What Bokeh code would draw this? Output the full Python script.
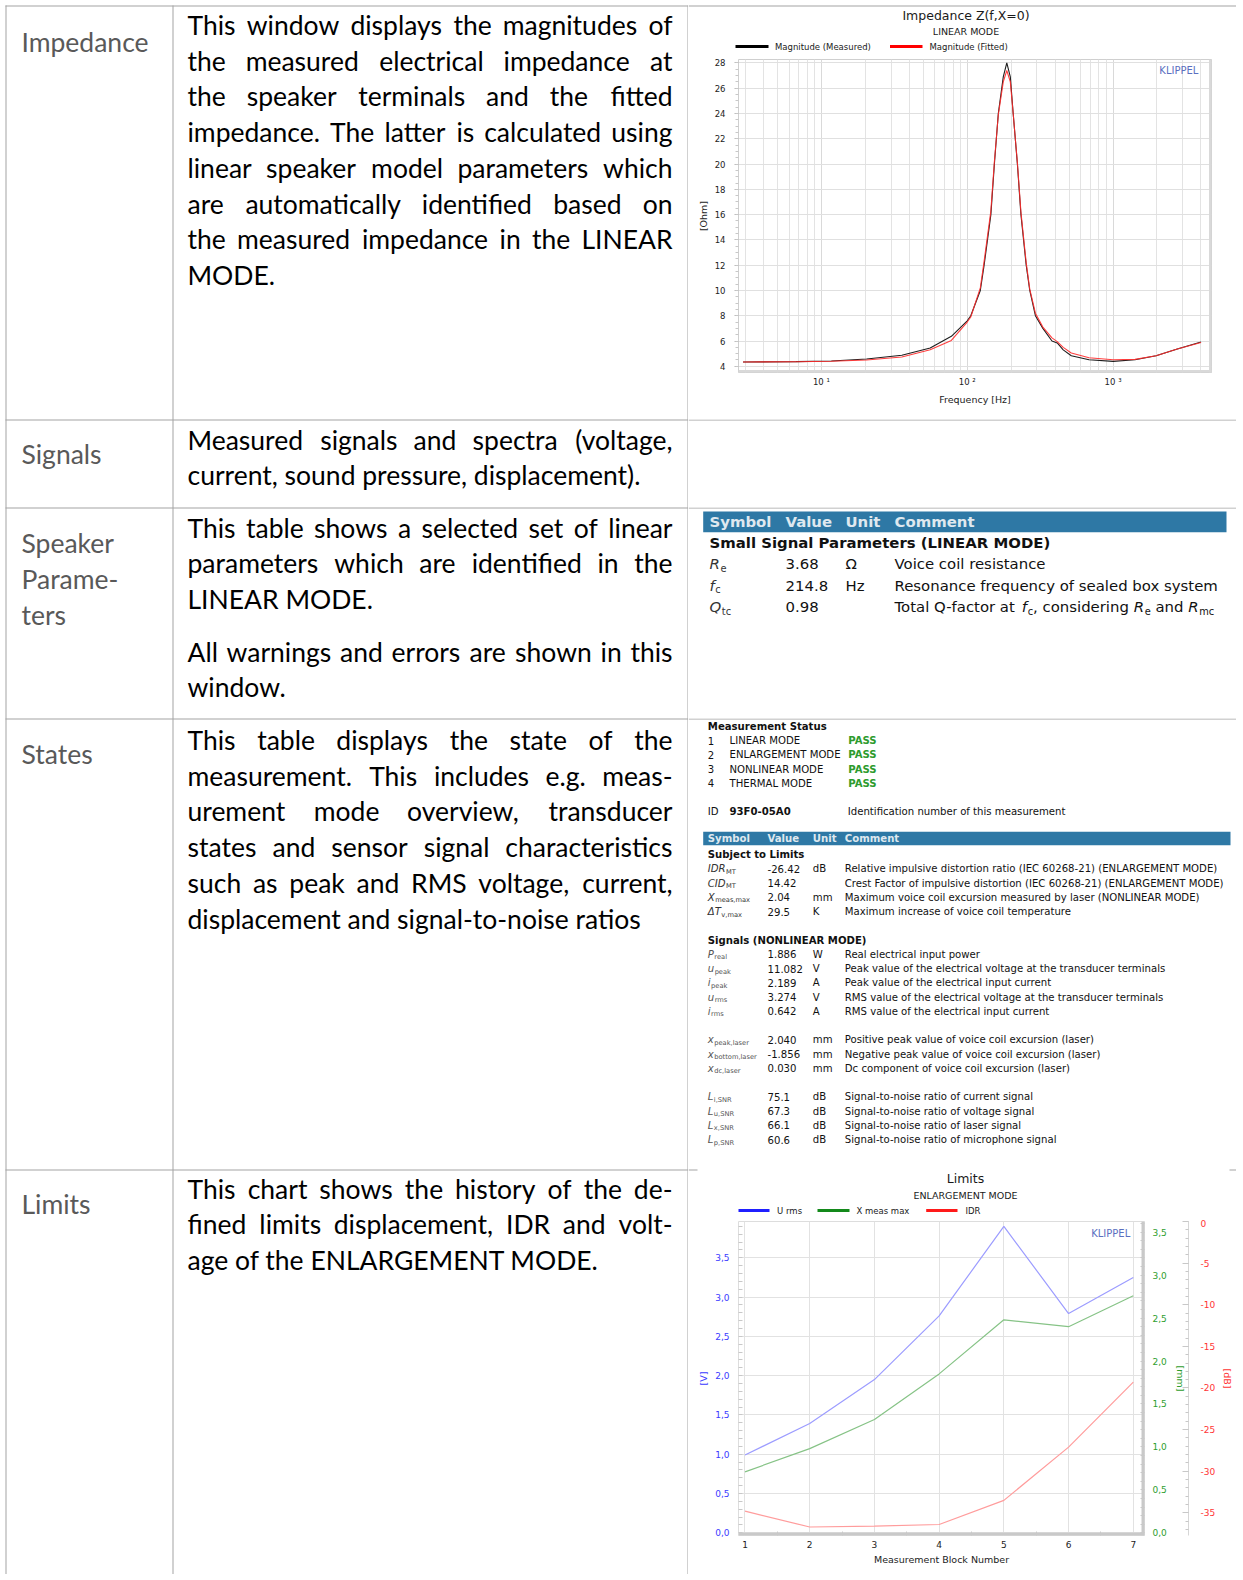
import glob
import os
import struct

from bokeh.core.properties import value
from bokeh.embed import file_html
from bokeh.layouts import column, row
from bokeh.models import (ColumnDataSource, CustomJSTickFormatter, FixedTicker,
                          LinearAxis, Range1d, Span)
from bokeh.plotting import figure
from bokeh.resources import INLINE

# ============================ DATA ============================
row_labels = [["Impedance"], ["Signals"], ["Speaker", "Parame-", "ters"], ["States"], ["Limits"]]

impedance_desc = [[
    "This window displays the magnitudes of",
    "the measured electrical impedance at",
    "the speaker terminals and the fitted",
    "impedance. The latter is calculated using",
    "linear speaker model parameters which",
    "are automatically identified based on",
    "the measured impedance in the LINEAR",
    "MODE.",
]]
signals_desc = [[
    "Measured signals and spectra (voltage,",
    "current, sound pressure, displacement).",
]]
params_desc = [
    ["This table shows a selected set of linear",
     "parameters which are identified in the",
     "LINEAR MODE."],
    ["All warnings and errors are shown in this",
     "window."],
]
states_desc = [[
    "This table displays the state of the",
    "measurement. This includes e.g. meas-",
    "urement mode overview, transducer",
    "states and sensor signal characteristics",
    "such as peak and RMS voltage, current,",
    "displacement and signal-to-noise ratios",
]]
limits_desc = [[
    "This chart shows the history of the de-",
    "fined limits displacement, IDR and volt-",
    "age of the ENLARGEMENT MODE.",
]]
row_descriptions = [impedance_desc, signals_desc, params_desc, states_desc, limits_desc]

# Impedance chart
imp_title = "Impedance Z(f,X=0)"
imp_subtitle = "LINEAR MODE"
imp_series = ["Magnitude (Measured)", "Magnitude (Fitted)"]
imp_freq = [2.9, 6.7, 11.7, 20.4, 35.6, 55.7, 77.8, 100, 105.7, 122.9, 130.5, 145.2,
            153.5, 163.3, 176.6, 186.7, 197.4, 206.5, 220.7, 233.4, 253.6, 268.3, 293.3,
            330, 381, 414, 455, 517, 684, 1000, 1413, 1972, 2756, 4010]
imp_mag_measured = [4.34, 4.37, 4.42, 4.58, 4.87, 5.45, 6.37, 7.6, 8.0, 10.0, 12.0, 16.0,
                    20.0, 24.0, 26.9, 28.0, 26.9, 24.0, 20.0, 16.0, 12.0, 10.0, 8.0,
                    7.0, 6.0, 5.85, 5.3, 4.84, 4.52, 4.39, 4.52, 4.84, 5.37, 5.92]
imp_mag_fitted = [4.34, 4.36, 4.40, 4.50, 4.74, 5.31, 6.05, 7.5, 7.9, 10.2, 12.3, 16.3,
                  20.2, 23.9, 26.5, 27.4, 26.5, 24.0, 20.1, 16.2, 12.2, 10.1, 8.2,
                  7.1, 6.25, 5.95, 5.5, 5.05, 4.68, 4.52, 4.55, 4.84, 5.37, 5.88]
imp_decades = [10, 100, 1000]
imp_y_ticks = [4, 6, 8, 10, 12, 14, 16, 18, 20, 22, 24, 26, 28]

# Limits chart
lim_title = "Limits"
lim_subtitle = "ENLARGEMENT MODE"
lim_series = ["U rms", "X meas max", "IDR"]
lim_blocks = [1, 2, 3, 4, 5, 6, 7]
lim_u_rms = [0.99, 1.39, 1.95, 2.76, 3.90, 2.79, 3.25]
lim_x_meas_max = [0.71, 0.98, 1.32, 1.85, 2.48, 2.40, 2.76]
lim_idr = [-34.8, -36.7, -36.6, -36.4, -33.5, -27.1, -19.3]
lim_v_ticks = [0.0, 0.5, 1.0, 1.5, 2.0, 2.5, 3.0, 3.5]
lim_mm_ticks = [0.0, 0.5, 1.0, 1.5, 2.0, 2.5, 3.0, 3.5]
lim_db_ticks = [0, -5, -10, -15, -20, -25, -30, -35]

# Speaker parameter table
table_headers = ["Symbol", "Value", "Unit", "Comment"]
param_section = "Small Signal Parameters (LINEAR MODE)"
param_symbols = [("R", "e"), ("f", "c"), ("Q", "tc")]
param_values = ["3.68", "214.8", "0.98"]
param_units = ["\u03a9", "Hz", ""]
param_comments = [
    [("Voice coil resistance", "n")],
    [("Resonance frequency of sealed box system", "n")],
    [("Total Q-factor at ", "n"), ("f", "i"), ("c", "s"), (", considering ", "n"),
     ("R", "i"), ("e", "s"), (" and ", "n"), ("R", "i"), ("mc", "s")],
]

# States table
status_heading = "Measurement Status"
status_modes = ["LINEAR MODE", "ENLARGEMENT MODE", "NONLINEAR MODE", "THERMAL MODE"]
status_results = ["PASS", "PASS", "PASS", "PASS"]
measurement_id = "93F0-05A0"
measurement_id_comment = "Identification number of this measurement"
limits_section = "Subject to Limits"
limit_symbols = [("IDR", "MT"), ("CID", "MT"), ("X", "meas,max"), ("\u0394T", "v,max")]
limit_values = ["-26.42", "14.42", "2.04", "29.5"]
limit_units = ["dB", "", "mm", "K"]
limit_comments = [
    "Relative impulsive distortion ratio (IEC 60268-21) (ENLARGEMENT MODE)",
    "Crest Factor of impulsive distortion (IEC 60268-21) (ENLARGEMENT MODE)",
    "Maximum voice coil excursion measured by laser (NONLINEAR MODE)",
    "Maximum increase of voice coil temperature",
]
signals_section = "Signals (NONLINEAR MODE)"
signal_groups = [
    [(("P", "real"), "1.886", "W", "Real electrical input power"),
     (("u", "peak"), "11.082", "V", "Peak value of the electrical voltage at the transducer terminals"),
     (("i", "peak"), "2.189", "A", "Peak value of the electrical input current"),
     (("u", "rms"), "3.274", "V", "RMS value of the electrical voltage at the transducer terminals"),
     (("i", "rms"), "0.642", "A", "RMS value of the electrical input current")],
    [(("x", "peak,laser"), "2.040", "mm", "Positive peak value of voice coil excursion (laser)"),
     (("x", "bottom,laser"), "-1.856", "mm", "Negative peak value of voice coil excursion (laser)"),
     (("x", "dc,laser"), "0.030", "mm", "Dc component of voice coil excursion (laser)")],
    [(("L", "i,SNR"), "75.1", "dB", "Signal-to-noise ratio of current signal"),
     (("L", "u,SNR"), "67.3", "dB", "Signal-to-noise ratio of voltage signal"),
     (("L", "x,SNR"), "66.1", "dB", "Signal-to-noise ratio of laser signal"),
     (("L", "p,SNR"), "60.6", "dB", "Signal-to-noise ratio of microphone signal")],
]

# ============================ FONT METRICS ============================
FONT_ROOTS = ["/usr/share/fonts", "/usr/local/share/fonts",
              os.path.expanduser("~/.fonts"), os.path.expanduser("~/.local/share/fonts")]


class TTFMetrics:
    exact = True

    def __init__(self, path):
        data = open(path, "rb").read()
        off = 0
        if data[:4] == b"ttcf":
            off = struct.unpack(">I", data[12:16])[0]
        n = struct.unpack(">H", data[off + 4:off + 6])[0]
        tabs = {}
        for i in range(n):
            b = off + 12 + 16 * i
            tag = data[b:b + 4].decode("latin-1")
            tabs[tag] = struct.unpack(">I", data[b + 8:b + 12])[0]
        h = tabs["head"]
        self.upem = struct.unpack(">H", data[h + 18:h + 20])[0]
        hh = tabs["hhea"]
        nhm = struct.unpack(">H", data[hh + 34:hh + 36])[0]
        hm = tabs["hmtx"]
        self.adv = struct.unpack(">%dH" % (2 * nhm), data[hm:hm + 4 * nhm])[0::2]
        c = tabs["cmap"]
        nsub = struct.unpack(">H", data[c + 2:c + 4])[0]
        chosen = None
        for i in range(nsub):
            pid, eid, so = struct.unpack(">HHI", data[c + 4 + 8 * i:c + 12 + 8 * i])
            fmt = struct.unpack(">H", data[c + so:c + so + 2])[0]
            if fmt == 4 and (pid == 0 or (pid == 3 and eid == 1)):
                chosen = c + so
                break
        s = chosen
        segx2 = struct.unpack(">H", data[s + 6:s + 8])[0]
        seg = segx2 // 2
        self.ends = struct.unpack(">%dH" % seg, data[s + 14:s + 14 + segx2])
        self.starts = struct.unpack(">%dH" % seg, data[s + 16 + segx2:s + 16 + 2 * segx2])
        self.deltas = struct.unpack(">%dh" % seg, data[s + 16 + 2 * segx2:s + 16 + 3 * segx2])
        self.ro = s + 16 + 3 * segx2
        self.roffs = struct.unpack(">%dH" % seg, data[self.ro:self.ro + segx2])
        self.data = data
        self.cache = {}
        if self.char("a") <= 0:
            raise ValueError("bad font")

    def gid(self, cp):
        for k in range(len(self.ends)):
            if self.ends[k] >= cp:
                if self.starts[k] > cp:
                    return 0
                if self.roffs[k] == 0:
                    return (cp + self.deltas[k]) & 0xFFFF
                a = self.ro + 2 * k + self.roffs[k] + 2 * (cp - self.starts[k])
                g = struct.unpack(">H", self.data[a:a + 2])[0]
                return (g + self.deltas[k]) & 0xFFFF if g else 0
        return 0

    def char(self, ch):
        if ch not in self.cache:
            g = self.gid(ord(ch))
            self.cache[ch] = self.adv[min(g, len(self.adv) - 1)] / self.upem
        return self.cache[ch]

    def width(self, text, size):
        return sum(self.char(ch) for ch in text) * size


class ApproxMetrics:
    exact = False

    def __init__(self, k):
        self.k = k

    def width(self, text, size):
        return len(text) * self.k * size


def load_metrics(names, k):
    for name in names:
        for root in FONT_ROOTS:
            if not os.path.isdir(root):
                continue
            for path in sorted(glob.glob(os.path.join(root, "**", name), recursive=True)):
                try:
                    return TTFMetrics(path)
                except Exception:
                    continue
    return ApproxMetrics(k)


DESC_FONT = "Lato"
TAB_FONT = "DejaVu Sans"
CH_FONT = "DejaVu Sans"
m_desc = load_metrics(["Lato-Regular.ttf"], 0.5)
m_tab = load_metrics(["DejaVuSans.ttf"], 0.6)
m_tab_b = load_metrics(["DejaVuSans-Bold.ttf"], 0.66)

# ============================ HELPERS ============================
GRID = "#a3a3a3"
PAGE_W, PAGE_H = 1236, 1574
SPLIT_X = 688


def no_align(p):
    try:
        p.frame_align = False
    except Exception:
        pass
    return p


class TextLayer:
    def __init__(self, fig, font, baseline):
        self.fig, self.font, self.baseline = fig, font, baseline
        self.groups = {}

    def add(self, x, y, text, size, color, style="normal", align="left"):
        key = (round(size, 2), color, style, align)
        self.groups.setdefault(key, []).append((x, y, text))

    def flush(self):
        for (size, color, style, align), items in self.groups.items():
            src = ColumnDataSource(dict(x=[i[0] for i in items], y=[i[1] for i in items],
                                        text=[i[2] for i in items]))
            self.fig.text(x="x", y="y", text="text", source=src, text_font=value(self.font),
                          text_font_size=value(f"{size}px"), text_color=color,
                          text_font_style=style, text_align=align,
                          text_baseline=self.baseline)


def canvas(x0, x1, y_top, y_bot):
    p = figure(width=int(round(x1 - x0)), height=int(round(y_bot - y_top)),
               x_range=Range1d(x0, x1), y_range=Range1d(y_bot, y_top),
               output_backend="svg", toolbar_location=None, tools="",
               x_axis_type=None, y_axis_type=None, min_border=0,
               outline_line_color=None, background_fill_color="white",
               border_fill_color="white")
    return no_align(p)


def rich(layer, x, y, segs, size, color):
    for text, st in segs:
        metrics = m_tab_b if st == "b" else m_tab
        fs = size * 0.66 if st == "s" else size
        lead = len(text) - len(text.lstrip(" "))
        x += metrics.width(" " * lead, fs)
        body = text.lstrip(" ")
        if st == "n":
            layer.add(x, y, body, fs, color)
        elif st == "b":
            layer.add(x, y, body, fs, color, "bold")
        elif st == "i":
            layer.add(x, y, body, fs, color, "italic")
        elif st == "s":
            layer.add(x, y + size * 0.30, body, fs, color)
        x += metrics.width(body, fs)
        if st == "i":
            x += 0.04 * size
    return x


# ============================ LEFT PART (labels + text) ============================
DESC_X0, DESC_X1, LABEL_X = 187.0, 672.0, 21.0
PITCH = 35.75
desc_first_baselines = [[24.3], [439.0], [527.0, 651.0], [739.3], [1188.0]]
label_baselines = [[41.0], [453.5], [542.0, 578.0, 614.0], [753.8], [1203.0]]

all_lines = [ln for block in row_descriptions for para in block for ln in para]
if m_desc.exact:
    widest = max(m_desc.width(ln, 1.0) for ln in all_lines)
    desc_size = min(26.5, 0.995 * (DESC_X1 - DESC_X0) / widest)
else:
    desc_size = 23.0

left = canvas(0, SPLIT_X, 0, PAGE_H)
h_lines = [5.5, 419.5, 507.5, 718.5, 1169.5]
left.segment(x0=[5] * len(h_lines), y0=h_lines, x1=[SPLIT_X] * len(h_lines), y1=h_lines,
             line_color=GRID, line_width=1)
v_lines = [5.5, 172.5, SPLIT_X - 0.5]
left.segment(x0=v_lines, y0=[5] * 3, x1=v_lines, y1=[PAGE_H] * 3, line_color=GRID, line_width=1)

lt = TextLayer(left, DESC_FONT, "alphabetic")
for labels, ys in zip(row_labels, label_baselines):
    for lab, y in zip(labels, ys):
        lt.add(LABEL_X, y, lab, desc_size, "#595959")

for block, starts in zip(row_descriptions, desc_first_baselines):
    for para, y0 in zip(block, starts):
        for k, line in enumerate(para):
            y = y0 + k * PITCH
            words = line.split(" ")
            last = k == len(para) - 1
            if last or not m_desc.exact or len(words) < 2:
                lt.add(DESC_X0, y, line, desc_size, "#000000")
                continue
            widths = [m_desc.width(w, desc_size) for w in words]
            gap = (DESC_X1 - DESC_X0 - sum(widths)) / (len(words) - 1)
            x = DESC_X0
            for i, (w, ww) in enumerate(zip(words, widths)):
                if i == len(words) - 1:
                    lt.add(DESC_X1, y, w, desc_size, "#000000", align="right")
                else:
                    lt.add(x, y, w, desc_size, "#000000")
                x += ww + gap
lt.flush()

# ============================ IMPEDANCE HEADER ============================
imp_head = canvas(SPLIT_X, PAGE_W, 0, 57)
imp_head.segment(x0=[SPLIT_X], y0=[5.5], x1=[PAGE_W], y1=[5.5], line_color=GRID, line_width=1)
ih = TextLayer(imp_head, CH_FONT, "middle")
ih.add(965.5, 15.0, imp_title, 12.5, "#1a1a1a", align="center")
ih.add(965.5, 31.2, imp_subtitle, 9.5, "#1a1a1a", align="center")
imp_head.segment(x0=[735, 889.5], y0=[46, 46], x1=[768, 922], y1=[46, 46],
                 line_color=["#000000", "#ff0000"], line_width=3)
ih.add(774.5, 46, imp_series[0], 8.5, "#1a1a1a")
ih.add(929.0, 46, imp_series[1], 8.5, "#1a1a1a")
ih.flush()

# ============================ IMPEDANCE CHART ============================
imp = figure(width=PAGE_W - SPLIT_X, height=362, x_axis_type="log", x_range=Range1d(2.70, 4730),
             y_range=Range1d(3.51, 28.27), output_backend="svg", toolbar_location=None,
             tools="", min_border_left=738 - SPLIT_X, min_border_right=PAGE_W - 1211,
             min_border_top=2, min_border_bottom=47, background_fill_color="white",
             border_fill_color="white", outline_line_color="#cfcfcf")
no_align(imp)
imp.add_layout(Span(location=4730, dimension="height", line_color="#d9d9d9", line_width=5))
imp.add_layout(Span(location=3.51, dimension="width", line_color="#d9d9d9", line_width=5))
imp.xgrid.grid_line_color = "#d9d9d9"
imp.xgrid.minor_grid_line_color = "#e3e3e3"
imp.ygrid.grid_line_color = "#e0e0e0"
imp.line(imp_freq, imp_mag_measured, line_color="#1e1e1e", line_width=1.1)
imp.line(imp_freq, imp_mag_fitted, line_color="#ff2a2a", line_width=1.1, line_alpha=0.9)
imp.text(x=[3846], y=[27.4], text=["KLIPPEL"], text_font=value(CH_FONT),
         text_font_size=value("10px"), text_color="#5a6fbf", text_align="right",
         text_baseline="middle")

imp_minor = [m * d for d in [1, 10, 100] for m in range(2, 10)] + [2000, 3000, 4000]
imp_minor = [t for t in imp_minor if t > 2.7]
xa = imp.xaxis[0]
xa.ticker = FixedTicker(ticks=imp_decades, minor_ticks=imp_minor)
xa.formatter = CustomJSTickFormatter(code=r"""
const e = Math.round(Math.log10(tick));
const sup = {1: '\u00b9', 2: '\u00b2', 3: '\u00b3'};
return '10 ' + (sup[e] || String(e));
""")
ya = imp.yaxis[0]
ya.ticker = FixedTicker(ticks=imp_y_ticks, minor_ticks=[3.5 + 0.5 * i for i in range(50)])
for ax in (xa, ya):
    ax.axis_line_color = None
    ax.major_label_text_font = CH_FONT
    ax.major_label_text_font_size = "8.5px"
    ax.major_label_text_color = "#222222"
    ax.axis_label_text_font = CH_FONT
    ax.axis_label_text_font_size = "9.5px"
    ax.axis_label_text_font_style = "normal"
    ax.axis_label_text_color = "#222222"
    ax.major_tick_in = 0
    ax.minor_tick_in = 0
    ax.major_tick_line_color = "#b8b8b8"
    ax.minor_tick_line_color = "#c8c8c8"
xa.major_tick_out = 0
xa.minor_tick_out = 0
xa.major_label_standoff = 4
xa.axis_label = "Frequency [Hz]"
xa.axis_label_standoff = 4
ya.major_tick_out = 4
ya.minor_tick_out = 3
ya.major_label_standoff = 9
ya.axis_label = "[Ohm]"
ya.axis_label_standoff = 3

# ============================ SIGNALS (empty) ============================
sig_fig = canvas(SPLIT_X, PAGE_W, 419, 507)
sig_fig.segment(x0=[SPLIT_X], y0=[419.5], x1=[PAGE_W], y1=[419.5], line_color=GRID, line_width=1)

# ============================ PARAMETER TABLE ============================
BAR = "#2e78a5"
BAR_TXT = "#dfe8ef"
par_size = 325.0 / m_tab.width("Resonance frequency of sealed box system", 1.0) if m_tab.exact else 14.5
par_fig = canvas(SPLIT_X, PAGE_W, 507, 718)
par_fig.segment(x0=[SPLIT_X], y0=[507.5], x1=[PAGE_W], y1=[507.5], line_color=GRID, line_width=1)
par_fig.quad(left=[702.7], right=[1226], top=[511], bottom=[531.7], fill_color=BAR, line_color=None)
pt = TextLayer(par_fig, TAB_FONT, "middle")
par_cols = [709.0, 785.0, 845.0, 894.0]
for hx, htxt in zip(par_cols, table_headers):
    pt.add(hx, 521.5, htxt, par_size, BAR_TXT, "bold")
pt.add(709.0, 542.0, param_section, par_size, "#111111", "bold")
for k in range(len(param_symbols)):
    y = 563.5 + 21.5 * k
    rich(pt, par_cols[0], y, [(param_symbols[k][0], "i"), (param_symbols[k][1], "s")], par_size, "#333333")
    pt.add(par_cols[1], y, param_values[k], par_size, "#111111")
    if param_units[k]:
        pt.add(par_cols[2], y, param_units[k], par_size, "#111111")
    rich(pt, par_cols[3], y, param_comments[k], par_size, "#111111")
pt.flush()

# ============================ STATES TABLE ============================
sta_size = 373.0 / m_tab.width(limit_comments[0], 1.0) if m_tab.exact else 9.5
sta_fig = canvas(SPLIT_X, PAGE_W, 718, 1171)
sta_fig.segment(x0=[SPLIT_X], y0=[718.5], x1=[PAGE_W], y1=[718.5], line_color=GRID, line_width=1)
sta_fig.segment(x0=[SPLIT_X, 1229], y0=[1169.5, 1169.5], x1=[697, PAGE_W], y1=[1169.5, 1169.5],
                line_color=GRID, line_width=1)
sta_fig.quad(left=[702.7], right=[1230], top=[831.3], bottom=[844.7], fill_color=BAR, line_color=None)
st = TextLayer(sta_fig, TAB_FONT, "middle")
SP = 14.25
Y0 = 725.8


def slot(n):
    return Y0 + SP * n


c_sym, c_val, c_unit, c_com = 707.3, 767.0, 812.3, 844.3
st.add(c_sym, slot(0), status_heading, sta_size, "#111111", "bold")
for k, (mode, res) in enumerate(zip(status_modes, status_results)):
    st.add(c_sym, slot(1 + k), str(k + 1), sta_size, "#111111")
    st.add(729.0, slot(1 + k), mode, sta_size, "#111111")
    st.add(847.7, slot(1 + k), res, sta_size, "#2d9b2d", "bold")
st.add(c_sym, slot(6), "ID", sta_size, "#111111")
st.add(729.0, slot(6), measurement_id, sta_size, "#111111", "bold")
st.add(847.3, slot(6), measurement_id_comment, sta_size, "#111111")
for hx, htxt in zip([c_sym, c_val, c_unit, c_com], table_headers):
    st.add(hx, 838.2, htxt, sta_size, BAR_TXT, "bold")
st.add(c_sym, slot(9), limits_section, sta_size, "#111111", "bold")
for k in range(len(limit_symbols)):
    y = slot(10 + k)
    rich(st, c_sym, y, [(limit_symbols[k][0], "i"), (limit_symbols[k][1], "s")], sta_size, "#333333")
    st.add(c_val, y, limit_values[k], sta_size, "#111111")
    if limit_units[k]:
        st.add(c_unit, y, limit_units[k], sta_size, "#111111")
    st.add(c_com, y, limit_comments[k], sta_size, "#111111")
st.add(c_sym, slot(15), signals_section, sta_size, "#111111", "bold")
n = 16
for group in signal_groups:
    for (sym, val, unit, com) in group:
        y = slot(n)
        rich(st, c_sym, y, [(sym[0], "i"), (sym[1], "s")], sta_size, "#555555")
        st.add(c_val, y, val, sta_size, "#111111")
        st.add(c_unit, y, unit, sta_size, "#111111")
        st.add(c_com, y, com, sta_size, "#111111")
        n += 1
    n += 1
st.flush()

# ============================ LIMITS HEADER ============================
lim_head = canvas(SPLIT_X, PAGE_W, 1171, 1219)
lh = TextLayer(lim_head, CH_FONT, "middle")
lh.add(965.0, 1178.0, lim_title, 12.5, "#1a1a1a", align="center")
lh.add(965.0, 1195.0, lim_subtitle, 9.5, "#1a1a1a", align="center")
lim_colors_strong = ["#1f1fff", "#13891a", "#ff1a1a"]
lim_head.segment(x0=[738, 817, 925.7], y0=[1210] * 3, x1=[769, 849, 957], y1=[1210] * 3,
                 line_color=lim_colors_strong, line_width=3)
for lx, name in zip([776.6, 856.0, 965.0], lim_series):
    lh.add(lx, 1210, name, 8.5, "#1a1a1a")
lh.flush()

# ============================ LIMITS CHART ============================
lim = figure(width=PAGE_W - SPLIT_X, height=PAGE_H - 1219, x_range=Range1d(0.8997, 7.173),
             y_range=Range1d(-0.0344, 3.9617), output_backend="svg",
             toolbar_location=None, tools="", min_border_left=738 - SPLIT_X,
             min_border_right=PAGE_W - 1151, min_border_top=2,
             min_border_bottom=PAGE_H - 1535, background_fill_color="white",
             border_fill_color="white", outline_line_color="#dddddd")
no_align(lim)
lim.extra_y_ranges = {"mm": Range1d(-0.0314, 3.6246), "db": Range1d(-37.72, 0.0)}
lim.add_layout(Span(location=7.173, dimension="height", line_color="#c9c9c9", line_width=6))
lim.add_layout(Span(location=-0.0344, dimension="width", line_color="#c9c9c9", line_width=6))
lim.xgrid.grid_line_color = "#e2e2e2"
lim.ygrid.grid_line_color = "#e2e2e2"
lim.line(lim_blocks, lim_u_rms, line_color="#9c9cff", line_width=1.2)
lim.line(lim_blocks, lim_x_meas_max, line_color="#86c386", line_width=1.2, y_range_name="mm")
lim.line(lim_blocks, lim_idr, line_color="#ff9c9c", line_width=1.2, y_range_name="db")
lim.text(x=[6.953], y=[3.806], text=["KLIPPEL"], text_font=value(CH_FONT),
         text_font_size=value("10px"), text_color="#5a6fbf", text_align="right",
         text_baseline="middle")

comma = CustomJSTickFormatter(code="return tick.toFixed(1).replace('.', ',');")
plain_int = CustomJSTickFormatter(code="return tick.toFixed(0);")
BLUE, GREEN, RED = "#3b3bff", "#2e9e2e", "#ff3535"


def style_axis(ax, color, label):
    ax.axis_line_color = None
    ax.major_label_text_font = CH_FONT
    ax.major_label_text_font_size = "9px"
    ax.major_label_text_color = color
    ax.axis_label = label
    ax.axis_label_text_font = CH_FONT
    ax.axis_label_text_font_size = "9.5px"
    ax.axis_label_text_font_style = "normal"
    ax.axis_label_text_color = color
    ax.major_tick_out = 0
    ax.minor_tick_out = 0
    ax.major_tick_in = 0
    ax.minor_tick_line_color = "#c8c8c8"
    ax.major_tick_line_color = "#c8c8c8"


def fine(lo, hi, step):
    return [round(lo + step * i, 3) for i in range(int(round((hi - lo) / step)) + 1)]


lx_ax = lim.xaxis[0]
style_axis(lx_ax, "#222222", "Measurement Block Number")
lx_ax.ticker = FixedTicker(ticks=lim_blocks, minor_ticks=[b + 0.5 for b in lim_blocks[:-1]])
lx_ax.minor_tick_in = 4
lx_ax.major_label_standoff = 5
lx_ax.axis_label_standoff = 3

lv = lim.left[0]
style_axis(lv, BLUE, "[V]")
lv.ticker = FixedTicker(ticks=lim_v_ticks, minor_ticks=fine(0.0, 3.9, 0.1))
lv.formatter = comma
lv.minor_tick_in = 4
lv.major_label_standoff = 9
lv.axis_label_standoff = 3

ax_mm = LinearAxis(y_range_name="mm")
style_axis(ax_mm, GREEN, "[mm]")
ax_mm.ticker = FixedTicker(ticks=lim_mm_ticks, minor_ticks=fine(0.0, 3.6, 0.1))
ax_mm.formatter = comma
ax_mm.minor_tick_in = 4
ax_mm.major_label_standoff = 8
ax_mm.axis_label_standoff = 5
lim.add_layout(ax_mm, "right")

ax_db = LinearAxis(y_range_name="db")
style_axis(ax_db, RED, "[dB]")
ax_db.ticker = FixedTicker(ticks=lim_db_ticks, minor_ticks=list(range(-37, 1)))
ax_db.formatter = plain_int
ax_db.axis_line_color = "#d6d6d6"
ax_db.major_tick_in = 6
ax_db.minor_tick_in = 3
ax_db.major_label_standoff = 12
ax_db.axis_label_standoff = 4
lim.add_layout(ax_db, "right")

# ============================ LAYOUT ============================
right = column(row(imp_head), row(imp), row(sig_fig), row(par_fig), row(sta_fig),
               row(lim_head), row(lim), spacing=0)
page = row(left, right, spacing=0)

html = file_html(page, INLINE, title="Speaker measurement overview")
with open("out.html", "w", encoding="utf-8") as f:
    f.write(html)
